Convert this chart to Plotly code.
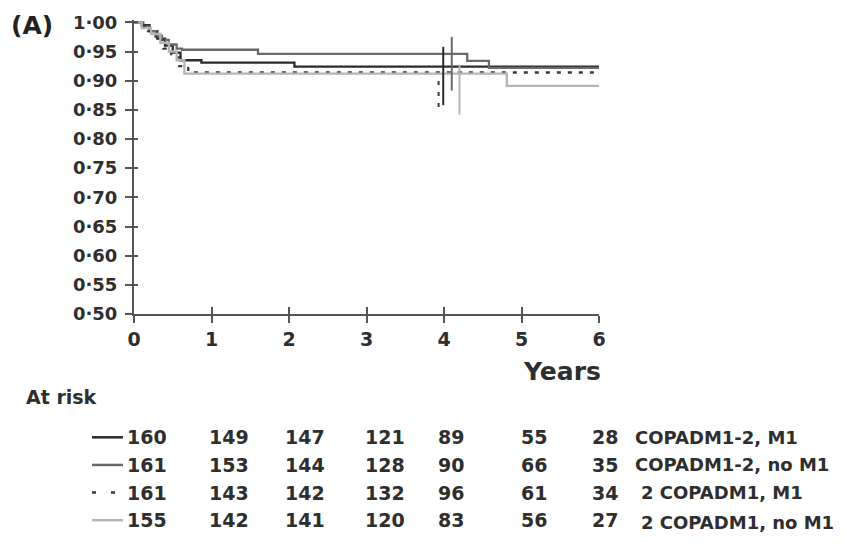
import plotly.graph_objects as go

# ---------------- data ----------------
years_ticks = [0, 1, 2, 3, 4, 5, 6]
surv_ticks = [0.50, 0.55, 0.60, 0.65, 0.70, 0.75, 0.80, 0.85, 0.90, 0.95, 1.00]

group_names = ["COPADM1-2, M1", "COPADM1-2, no M1", "2 COPADM1, M1", "2 COPADM1, no M1"]

# Kaplan-Meier step curves (time in years, survival)
t_g1 = [0, 0.10, 0.20, 0.30, 0.40, 0.50, 0.60, 0.87, 2.07, 6.0]
s_g1 = [1.0, 0.995, 0.985, 0.972, 0.960, 0.948, 0.935, 0.931, 0.924, 0.924]

t_g2 = [0, 0.12, 0.20, 0.28, 0.36, 0.45, 0.55, 0.62, 1.60, 4.30, 4.58, 6.0]
s_g2 = [1.0, 0.993, 0.985, 0.977, 0.970, 0.962, 0.955, 0.953, 0.946, 0.934, 0.922, 0.922]

t_g3 = [0, 0.08, 0.18, 0.28, 0.38, 0.48, 0.58, 0.70, 6.0]
s_g3 = [1.0, 0.995, 0.985, 0.970, 0.955, 0.940, 0.925, 0.914, 0.914]

t_g4 = [0, 0.10, 0.22, 0.34, 0.45, 0.55, 0.65, 4.81, 6.0]
s_g4 = [1.0, 0.990, 0.980, 0.965, 0.950, 0.935, 0.912, 0.891, 0.891]

# 95% CI bars around 4 years
ci_t = [3.99, 4.10, 3.93, 4.20]
ci_low = [0.858, 0.883, 0.855, 0.842]
ci_high = [0.958, 0.975, 0.900, 0.926]

# numbers at risk
at_risk = [
    [160, 149, 147, 121, 89, 55, 28],
    [161, 153, 144, 128, 90, 66, 35],
    [161, 143, 142, 132, 96, 61, 34],
    [155, 142, 141, 120, 83, 56, 27],
]

# ---------------- styles ----------------
colors = ["#2a2a2a", "#6a6a6a", "#383838", "#b4b4b4"]
dashes = ["solid", "solid", "4px,7px", "solid"]
col_shift = [13, 17, 16, 18, 7, 12, 6]   # pixel offsets of at-risk columns
FONT = "DejaVu Sans, Arial, sans-serif"
TXT = "#2e2e2e"

W, H = 845, 543
ML, MR, MT, MB = 134, 246, 16, 229
PW = W - ML - MR
PH = H - MT - MB
Y0, Y1 = 0.5, 1.004


def px(xp):
    return (xp - ML) / PW


def py(yp):
    return (H - MB - yp) / PH


fig = go.Figure()

curves = [(t_g1, s_g1), (t_g2, s_g2), (t_g3, s_g3), (t_g4, s_g4)]
for i, (t, s) in enumerate(curves):
    fig.add_trace(go.Scatter(
        x=t, y=s, mode="lines", line_shape="hv",
        line=dict(color=colors[i], width=2.3, dash=dashes[i]),
        name=group_names[i], showlegend=False, hoverinfo="skip"))

for i in range(4):
    fig.add_trace(go.Scatter(
        x=[ci_t[i], ci_t[i]], y=[ci_low[i], ci_high[i]], mode="lines",
        line=dict(color=colors[i], width=2, dash=dashes[i]),
        showlegend=False, hoverinfo="skip"))

# dummy trace for overlay axes (crossing ticks)
fig.add_trace(go.Scatter(x=[None], y=[None], xaxis="x2", yaxis="y2",
                         showlegend=False, hoverinfo="skip"))

fmt = lambda v: f"{v:.2f}".replace(".", "\u00b7")

fig.update_layout(
    width=W, height=H,
    margin=dict(l=ML, r=MR, t=MT, b=MB),
    paper_bgcolor="white", plot_bgcolor="white",
    font=dict(family=FONT, color=TXT),
    xaxis=dict(range=[0, 6], tickvals=years_ticks, ticktext=[str(v) for v in years_ticks],
               showline=True, linecolor="#555", linewidth=2,
               ticks="outside", ticklen=7, tickwidth=2, tickcolor="#555",
               showgrid=False, zeroline=False,
               tickfont=dict(family=FONT, size=19, color=TXT, weight="bold")),
    yaxis=dict(range=[Y0, Y1], tickvals=surv_ticks, ticktext=[fmt(v) for v in surv_ticks],
               showline=True, linecolor="#555", linewidth=2,
               ticks="outside", ticklen=7, tickwidth=2, tickcolor="#555",
               showgrid=False, zeroline=False, ticklabelstandoff=4,
               tickfont=dict(family=FONT, size=18, color=TXT, weight="bold")),
    xaxis2=dict(range=[0, 6], overlaying="x", anchor="y", tickvals=years_ticks,
                ticks="inside", ticklen=7, tickwidth=2, tickcolor="#555",
                showticklabels=False, showline=False, showgrid=False, zeroline=False),
    yaxis2=dict(range=[Y0, Y1], overlaying="y", anchor="x", side="left", tickvals=surv_ticks,
                ticks="inside", ticklen=4, tickwidth=2, tickcolor="#555",
                showticklabels=False, showline=False, showgrid=False, zeroline=False),
)

ann = []
ann.append(dict(text="(A)", xref="paper", yref="paper", x=px(9), y=py(22),
                xanchor="left", yanchor="middle", showarrow=False,
                font=dict(size=25, weight="bold", color="#222")))
ann.append(dict(text="Years", xref="paper", yref="paper", x=px(603), y=py(372),
                xanchor="right", yanchor="middle", showarrow=False,
                font=dict(size=25, weight="bold", color=TXT)))
ann.append(dict(text="At risk", xref="paper", yref="paper", x=px(24), y=py(398),
                xanchor="left", yanchor="middle", showarrow=False,
                font=dict(size=19, weight="bold", color=TXT)))

row_y = [439, 467, 495, 523]
label_x = [633, 633, 639, 639]
shapes = []
for r in range(4):
    for j, n in enumerate(at_risk[r]):
        ann.append(dict(text=str(n), xref="x", yref="paper", x=years_ticks[j], y=py(row_y[r]),
                        xanchor="center", yanchor="middle", xshift=col_shift[j], showarrow=False,
                        font=dict(size=19, weight="bold", color=TXT)))
    ann.append(dict(text=group_names[r], xref="paper", yref="paper", x=px(label_x[r]),
                    y=py(row_y[r] + (2 if r == 3 else 0)),
                    xanchor="left", yanchor="middle", showarrow=False,
                    font=dict(size=18, weight="bold", color=TXT)))
    shapes.append(dict(type="line", xref="paper", yref="paper",
                       x0=px(92), x1=px(123), y0=py(row_y[r]), y1=py(row_y[r]),
                       line=dict(color=colors[r], width=2.5,
                                 dash="4px,15px" if r == 2 else "solid")))

fig.update_layout(annotations=ann, shapes=shapes)

fig.write_html("out.html")
